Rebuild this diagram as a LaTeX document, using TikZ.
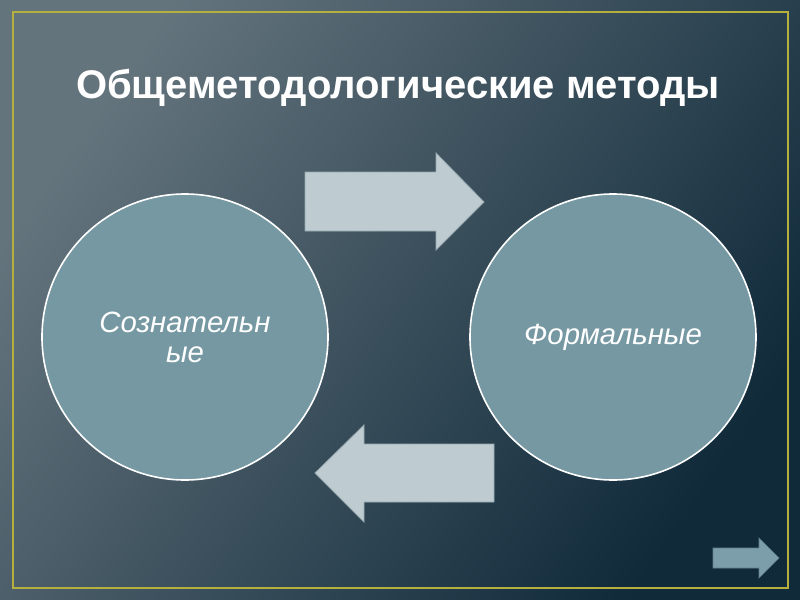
\documentclass[tikz,border=0pt]{standalone}
\usepackage{fontspec}
\setmainfont{Liberation Sans}
\definecolor{bglight}{HTML}{64747D}
\definecolor{bgdark}{HTML}{102A3A}
\definecolor{frameyellow}{HTML}{B5B03E}
\definecolor{circlefill}{HTML}{7598A2}
\definecolor{arrowfill}{HTML}{BECBD0}
\definecolor{arrowedge}{HTML}{98AAB0}
\definecolor{navfill}{HTML}{7B9EAA}
\begin{document}
\begin{tikzpicture}[x=0.75pt, y=-0.75pt,
    method/.style={circle, fill=circlefill, draw=white, line width=1.2pt, minimum size=214.5pt, inner sep=0pt,
                   text=white, align=center, font=\fontsize{22}{22.5}\selectfont\itshape},
    bigarrow/.style={fill=arrowfill, draw=arrowedge, line width=0.6pt}]
    \useasboundingbox (0,0) rectangle (800,600);
    \shade [top color=bglight, bottom color=bgdark, shading angle=55] (0,0) rectangle (800,600);
    \draw [frameyellow, line width=1.5pt] (13,12) rectangle (788,588);

    \node [text=white, anchor=base, font=\fontsize{30}{34}\selectfont\bfseries] (title) at (398,98) {Общеметодологические методы};

    \node [method] (conscious) at (185,337) {Сознательн\\ые};
    \node [method] (formal) at (613,337) {Формальные};

    \draw [bigarrow] (305,172) -- (436,172) -- (436,153) -- (484,202) -- (436,250) -- (436,231) -- (305,231) -- cycle;
    \draw [bigarrow] (494,444) -- (364,444) -- (364,425) -- (315,473) -- (364,522) -- (364,502) -- (494,502) -- cycle;

    \draw [fill=navfill, draw=navfill!80!black, line width=0.5pt] (713,548) -- (759,548) -- (759,538) -- (779,558) -- (759,578) -- (759,568) -- (713,568) -- cycle;
\end{tikzpicture}
\end{document}
